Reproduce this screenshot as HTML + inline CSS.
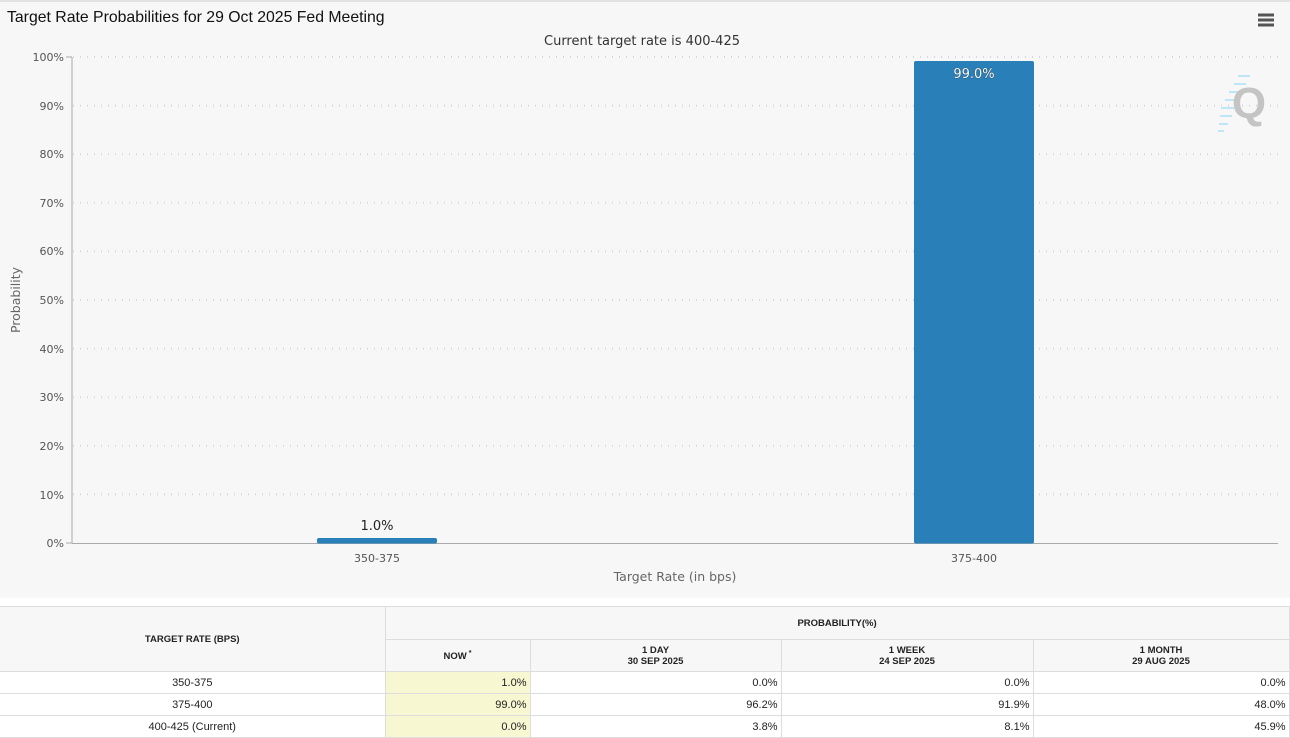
<!DOCTYPE html>
<html><head><meta charset="utf-8"><style>
body{margin:0;width:1290px;height:736px;overflow:hidden;background:#fff;font-family:"Liberation Sans",sans-serif;position:relative}
.chart{position:absolute;left:0;top:0;width:1290px;height:598px;background:#f7f7f7;border-top:2px solid #e2e2e2;box-sizing:border-box}
table{position:absolute;left:0;top:606px;width:1289px;border-collapse:collapse;font-size:11px;color:#222;table-layout:fixed}
td,th{border:1px solid #ddd;padding:0 3px}
th{background:#f7f7f7;font-size:9.5px;font-weight:bold;text-align:center;line-height:11px}
td{height:21px;text-align:right}
td.c{text-align:center}
td.n{background:#f7f7d2}
</style></head><body>
<div class="chart">
<svg width="1290" height="598" style="position:absolute;left:0;top:-2px" font-family="DejaVu Sans, sans-serif">
<text x="7" y="22" font-size="15.8" fill="#111" font-family="Liberation Sans, sans-serif">Target Rate Probabilities for 29 Oct 2025 Fed Meeting</text>
<text x="642" y="45" font-size="13" fill="#333" text-anchor="middle">Current target rate is 400-425</text>
<g stroke="#555" stroke-width="3"><line x1="1258" y1="15" x2="1274" y2="15"/><line x1="1258" y1="20" x2="1274" y2="20"/><line x1="1258" y1="25" x2="1274" y2="25"/></g>
<g stroke="#d8d8d8" stroke-dasharray="1,6" stroke-width="2">
<line x1="73" y1="57" x2="1278" y2="57"/><line x1="73" y1="105.6" x2="1278" y2="105.6"/><line x1="73" y1="154.2" x2="1278" y2="154.2"/><line x1="73" y1="202.8" x2="1278" y2="202.8"/><line x1="73" y1="251.4" x2="1278" y2="251.4"/><line x1="73" y1="300" x2="1278" y2="300"/><line x1="73" y1="348.6" x2="1278" y2="348.6"/><line x1="73" y1="397.2" x2="1278" y2="397.2"/><line x1="73" y1="445.8" x2="1278" y2="445.8"/><line x1="73" y1="494.4" x2="1278" y2="494.4"/>
</g>
<g stroke="#bfe6f7" stroke-width="2">
<line x1="1238" y1="76" x2="1250" y2="76"/><line x1="1234" y1="84" x2="1246" y2="84"/><line x1="1229" y1="92" x2="1242" y2="92"/><line x1="1225" y1="100" x2="1238" y2="100"/><line x1="1221" y1="108" x2="1234" y2="108"/><line x1="1220" y1="116" x2="1232" y2="116"/><line x1="1219" y1="124" x2="1228" y2="124"/><line x1="1218" y1="131" x2="1224" y2="131"/>
</g>
<text x="1249" y="118" font-size="44" font-weight="bold" fill="#c4c4c4" text-anchor="middle" font-family="Liberation Sans, sans-serif">Q</text>
<line x1="72" y1="57" x2="72" y2="543" stroke="#aaa"/>
<line x1="72" y1="543.5" x2="1278" y2="543.5" stroke="#aaa"/>
<g font-size="11" fill="#555" text-anchor="end">
<text x="64" y="61">100%</text><text x="64" y="110">90%</text><text x="64" y="158">80%</text><text x="64" y="207">70%</text><text x="64" y="255">60%</text><text x="64" y="304">50%</text><text x="64" y="353">40%</text><text x="64" y="401">30%</text><text x="64" y="450">20%</text><text x="64" y="499">10%</text><text x="64" y="547">0%</text>
</g>
<g stroke="#aaa"><line x1="66" y1="57" x2="72" y2="57"/><line x1="66" y1="543" x2="72" y2="543"/></g>
<rect x="317" y="538" width="120" height="5.5" fill="#2980b9" rx="2"/>
<rect x="914" y="61" width="120" height="482.5" fill="#2980b9" rx="2"/>
<text x="377" y="530" font-size="13" fill="#222" text-anchor="middle">1.0%</text>
<text x="974" y="78" font-size="13" fill="#fff" stroke="#222" stroke-width="0.5" paint-order="stroke" text-anchor="middle">99.0%</text>
<text x="377" y="562" font-size="11" fill="#555" text-anchor="middle">350-375</text>
<text x="974" y="562" font-size="11" fill="#555" text-anchor="middle">375-400</text>
<text x="675" y="581" font-size="12.5" fill="#666" text-anchor="middle">Target Rate (in bps)</text>
<text transform="translate(20,300) rotate(-90)" font-size="12.5" fill="#666" text-anchor="middle">Probability</text>
</svg>
</div>
<table>
<colgroup><col style="width:385px"><col style="width:145px"><col style="width:251px"><col style="width:252px"><col style="width:256px"></colgroup>
<tr style="height:33px"><th rowspan="2" style="border-left:none">TARGET RATE (BPS)</th><th colspan="4">PROBABILITY(%)</th></tr>
<tr style="height:32px"><th>NOW<sup style="font-size:7px"> *</sup></th><th>1 DAY<br>30 SEP 2025</th><th>1 WEEK<br>24 SEP 2025</th><th>1 MONTH<br>29 AUG 2025</th></tr>
<tr><td class="c" style="border-left:none">350-375</td><td class="n">1.0%</td><td>0.0%</td><td>0.0%</td><td>0.0%</td></tr>
<tr><td class="c" style="border-left:none">375-400</td><td class="n">99.0%</td><td>96.2%</td><td>91.9%</td><td>48.0%</td></tr>
<tr><td class="c" style="border-left:none">400-425 (Current)</td><td class="n">0.0%</td><td>3.8%</td><td>8.1%</td><td>45.9%</td></tr>
</table>
</body></html>
